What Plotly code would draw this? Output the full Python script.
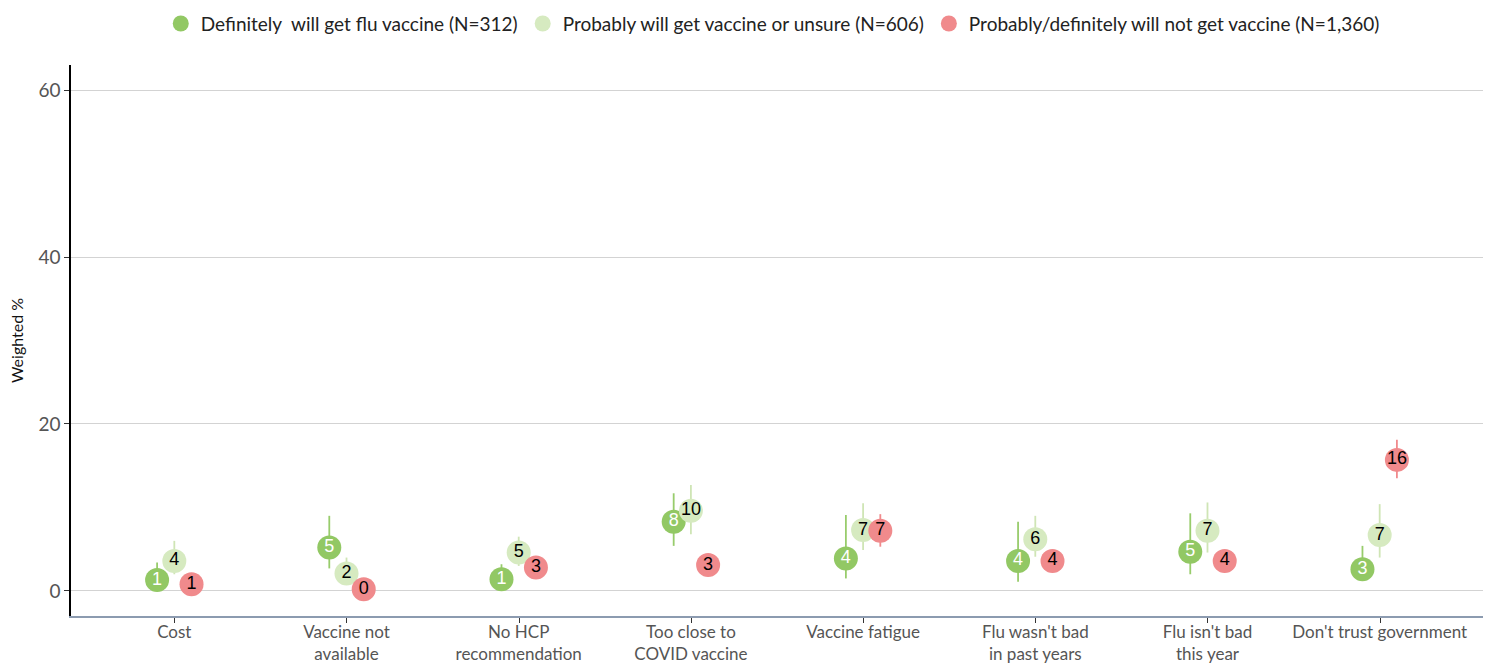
import plotly.graph_objects as go

# Reasons for not getting a flu vaccine, by vaccination intent
categories = [
    "Cost",
    "Vaccine not<br>available",
    "No HCP<br>recommendation",
    "Too close to<br>COVID vaccine",
    "Vaccine fatigue",
    "Flu wasn't bad<br>in past years",
    "Flu isn't bad<br>this year",
    "Don't trust government",
]

series_names = [
    "Definitely  will get flu vaccine (N=312)",
    "Probably will get vaccine or unsure (N=606)",
    "Probably/definitely will not get vaccine (N=1,360)",
]

# Weighted % and 95% CI bounds
definitely_val = [1.3, 5.2, 1.4, 8.3, 3.9, 3.6, 4.7, 2.6]
definitely_lo = [0.3, 2.7, 0.4, 5.4, 1.5, 1.1, 2.0, 1.2]
definitely_hi = [3.4, 9.0, 3.2, 11.7, 9.1, 8.3, 9.3, 5.4]

probably_val = [3.6, 2.1, 4.6, 9.6, 7.3, 6.2, 7.2, 6.7]
probably_lo = [2.0, 1.0, 3.0, 6.8, 4.9, 4.1, 4.6, 4.0]
probably_hi = [6.0, 4.0, 6.5, 12.7, 10.5, 9.0, 10.6, 10.4]

willnot_val = [0.8, 0.2, 2.8, 3.1, 7.2, 3.6, 3.6, 15.7]
willnot_lo = [0.4, 0.0, 2.0, 2.3, 5.3, 2.7, 2.7, 13.5]
willnot_hi = [1.4, 0.6, 3.7, 4.0, 9.2, 4.5, 4.5, 18.1]

y_ticks = [0, 20, 40, 60]

marker_colors = ["#92c864", "#d6eac0", "#f08a8c"]
bar_colors = ["#98cc6c", "#cfe5b5", "#f08a8c"]
text_colors = ["white", "black", "black"]
offsets = [-0.1, 0.0, 0.1]

values = [definitely_val, probably_val, willnot_val]
lows = [definitely_lo, probably_lo, willnot_lo]
highs = [definitely_hi, probably_hi, willnot_hi]

fig = go.Figure()
for i in range(3):
    xs = [k + offsets[i] for k in range(len(categories))]
    fig.add_trace(go.Scatter(
        x=xs,
        y=values[i],
        name=series_names[i],
        mode="markers+text",
        text=values[i],
        texttemplate="%{text:.0f}",
        textposition="middle center",
        textfont=dict(family="Arial, Liberation Sans, sans-serif", size=18,
                      color=text_colors[i]),
        marker=dict(size=24, color=marker_colors[i], line=dict(width=0)),
        error_y=dict(
            type="data",
            symmetric=False,
            array=[h - v for h, v in zip(highs[i], values[i])],
            arrayminus=[v - l for v, l in zip(values[i], lows[i])],
            color=bar_colors[i],
            thickness=1.8,
            width=0,
        ),
        cliponaxis=False,
    ))

fig.update_layout(
    width=1501,
    height=664,
    margin=dict(l=71, r=18, t=65, b=48, autoexpand=False),
    paper_bgcolor="white",
    plot_bgcolor="white",
    font=dict(family="Lato, Open Sans, sans-serif", size=18, color="#555555"),
    showlegend=True,
    legend=dict(
        orientation="h",
        x=0.497, xanchor="center",
        y=0.993, yanchor="top",
        yref="container",
        font=dict(size=19, color="#222222"),
        itemsizing="trace",
        bgcolor="rgba(0,0,0,0)",
    ),
)

# Category tick marks are drawn as minor ticks so the two-line labels sit
# close to the axis line.
fig.update_xaxes(
    range=[-0.6, 7.6],
    tickmode="array",
    tickvals=list(range(len(categories))),
    ticktext=categories,
    ticks="",
    minor=dict(ticks="outside", ticklen=5, tickcolor="#333333",
               tick0=0.002, dtick=1, showgrid=False),
    showline=True,
    linecolor="#8c9bb0",
    linewidth=1.5,
    showgrid=False,
    zeroline=False,
    automargin=False,
    tickfont=dict(size=17, color="#555555"),
)
fig.update_yaxes(
    range=[-3, 63],
    tickmode="array",
    tickvals=y_ticks,
    ticks="outside",
    ticklen=5,
    tickcolor="#333333",
    showline=True,
    linecolor="black",
    linewidth=1.5,
    showgrid=True,
    gridcolor="#d3d3d3",
    gridwidth=1.2,
    zeroline=False,
    automargin=False,
    tickfont=dict(size=19, color="#555555"),
    title=dict(text="Weighted %", font=dict(size=16, color="#111111"), standoff=11),
)

fig.write_html("out.html")
